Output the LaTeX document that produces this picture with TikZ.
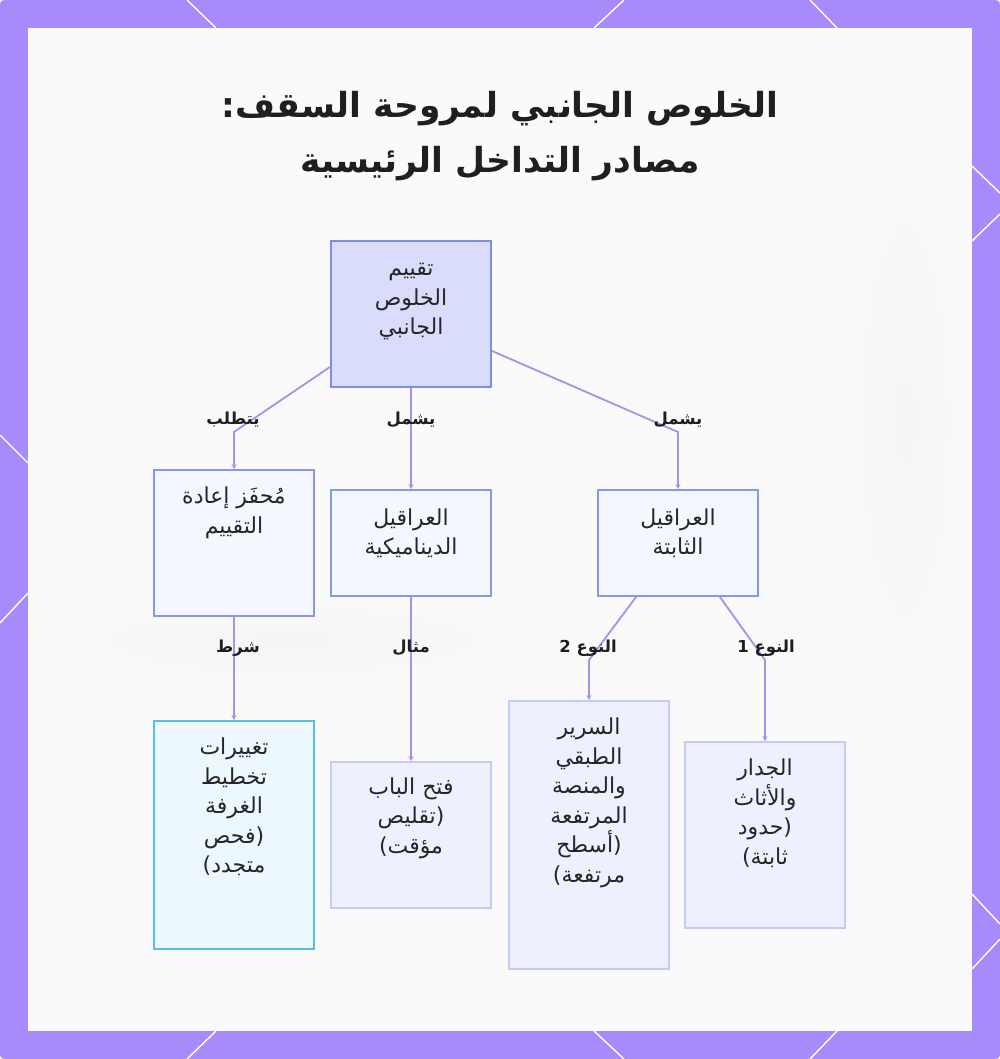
\documentclass[tikz,border=0pt]{standalone}
\usepackage{fontspec}
\newfontfamily\arabicfont[Script=Arabic]{DejaVu Sans}
\TeXXeTstate=1
\usetikzlibrary{arrows.meta}

\definecolor{framebg}{HTML}{A78BFA}
\definecolor{panelbg}{HTML}{FAFAFA}
\definecolor{linkcol}{HTML}{A990EA}
\definecolor{rootfill}{HTML}{D9DCFA}
\definecolor{rootline}{HTML}{7C8DE3}
\definecolor{midfill}{HTML}{F5F7FE}
\definecolor{midline}{HTML}{8799E6}
\definecolor{cyanfill}{HTML}{EDF7FE}
\definecolor{cyanline}{HTML}{55BFE8}
\definecolor{lightfill}{HTML}{EEF0FD}
\definecolor{lightline}{HTML}{C6CBF6}

\tikzset{
  deco/.style={draw=white, line width=1.4pt},
  box/.style={draw, line width=1.8pt, inner sep=0pt},
  rootbox/.style={box, draw=rootline, fill=rootfill},
  midbox/.style={box, draw=midline, fill=midfill},
  cyanbox/.style={box, draw=cyanline, fill=cyanfill},
  lightbox/.style={box, draw=lightline, fill=lightfill},
  boxtext/.style={align=center, inner sep=0pt, text=black!85,
    font=\arabicfont\fontsize{22}{29.5}\selectfont},
  titletext/.style={align=center, inner sep=0pt, text=black!88,
    font=\arabicfont\bfseries\fontsize{34.5}{55}\selectfont},
  lbl/.style={inner sep=0pt, text=black!88,
    font=\arabicfont\bfseries\fontsize{16.5}{18}\selectfont},
  link/.style={draw=linkcol, line width=1.8pt, -{Stealth[length=5pt,width=5pt]}},
}

\begin{document}
\begin{tikzpicture}[x=1pt,y=-1pt]
\fill[framebg, rounded corners=4pt] (0,0) rectangle (1000,1059);
\useasboundingbox (0,0) rectangle (1000,1059);
\fill[panelbg] (28,28) rectangle (972,1031);
\shade[inner color=black!4, outer color=panelbg] (905,420) ellipse (65pt and 280pt);
\shade[inner color=black!4, outer color=panelbg] (290,640) ellipse (260pt and 50pt);
\draw[deco] (187,0)--(216,28) (624,0)--(594,28) (810,0)--(837,28);
\draw[deco] (216,1031)--(187,1059) (594,1031)--(624,1059) (837,1031)--(810,1059);
\draw[deco] (0,435)--(28,463) (28,593)--(0,623);
\draw[deco] (972,166)--(1000,193) (1000,214)--(972,241);
\draw[deco] (972,894)--(1000,924) (1000,939)--(972,969);

\node[titletext] (title) at (500,136) {:\beginR الخلوص الجانبي لمروحة السقف\endR\\\beginR مصادر التداخل الرئيسية\endR};

\node[rootbox, minimum width=160pt, minimum height=146pt] (root) at (411,314) {};
\node[midbox, minimum width=160pt, minimum height=146pt] (trig) at (234,543) {};
\node[midbox, minimum width=160pt, minimum height=106pt] (dyn) at (411,543) {};
\node[midbox, minimum width=160pt, minimum height=106pt] (fix) at (678,543) {};
\node[cyanbox, minimum width=160pt, minimum height=228pt] (room) at (234,835) {};
\node[lightbox, minimum width=160pt, minimum height=146pt] (door) at (411,835) {};
\node[lightbox, minimum width=160pt, minimum height=268pt] (bed) at (589,835) {};
\node[lightbox, minimum width=160pt, minimum height=186pt] (wall) at (765,835) {};

\node[boxtext] (root-t) at (411,302) {\beginR تقييم\endR\\\beginR الخلوص\endR\\\beginR الجانبي\endR};
\node[boxtext] (trig-t) at (234,513) {\beginR مُحفَز إعادة\endR\\\beginR التقييم\endR};
\node[boxtext] (dyn-t) at (411,533) {\beginR العراقيل\endR\\\beginR الديناميكية\endR};
\node[boxtext] (fix-t) at (678,533) {\beginR العراقيل\endR\\\beginR الثابتة\endR};
\node[boxtext] (room-t) at (234,807) {\beginR تغييرات\endR\\\beginR تخطيط\endR\\\beginR الغرفة\endR\\\beginR فحص\endR(\\)\beginR متجدد\endR};
\node[boxtext] (door-t) at (411,818) {\beginR فتح الباب\endR\\\beginR تقليص\endR(\\)\beginR مؤقت\endR};
\node[boxtext] (bed-t) at (589,803) {\beginR السرير\endR\\\beginR الطبقي\endR\\\beginR والمنصة\endR\\\beginR المرتفعة\endR\\\beginR أسطح\endR(\\)\beginR مرتفعة\endR};
\node[boxtext] (wall-t) at (765,813) {\beginR الجدار\endR\\\beginR والأثاث\endR\\\beginR حدود\endR(\\)\beginR ثابتة\endR};

\coordinate (root-trig) at (234,432);
\coordinate (root-fix) at (678,432);
\coordinate (fix-bed) at (589,660);
\coordinate (fix-wall) at (765,660);
\draw[link] ([yshift=21pt]root.south west) -- (root-trig) -- (trig.north);
\draw[link] (root.south) -- (dyn.north);
\draw[link] ([yshift=37pt]root.south east) -- (root-fix) -- (fix.north);
\draw[link] (trig.south) -- (room.north);
\draw[link] (dyn.south) -- (door.north);
\draw[link] ([xshift=39pt]fix.south west) -- (fix-bed) -- (bed.north);
\draw[link] ([xshift=-39pt]fix.south east) -- (fix-wall) -- (wall.north);

\node[lbl] (l-req) at (233,420) {\beginR يتطلب\endR};
\node[lbl] (l-inc1) at (411,420) {\beginR يشمل\endR};
\node[lbl] (l-inc2) at (678,420) {\beginR يشمل\endR};
\node[lbl] (l-cond) at (238,648) {\beginR شرط\endR};
\node[lbl] (l-ex) at (411,648) {\beginR مثال\endR};
\node[lbl] (l-t2) at (588,648) {\beginR النوع 2\endR};
\node[lbl] (l-t1) at (766,648) {\beginR النوع 1\endR};
\end{tikzpicture}
\end{document}
